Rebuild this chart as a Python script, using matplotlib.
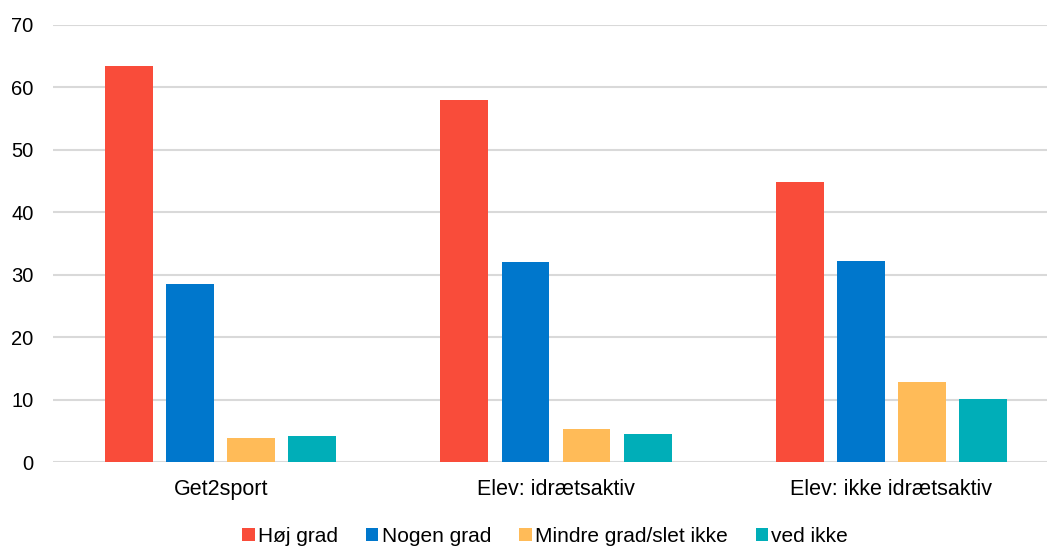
import matplotlib
matplotlib.use("Agg")
import matplotlib.pyplot as plt
import numpy as np

plt.rcParams['font.family'] = ['Liberation Sans', 'DejaVu Sans']

categories = ["Get2sport", "Elev: idrætsaktiv", "Elev: ikke idrætsaktiv"]
series_names = ["Høj grad", "Nogen grad", "Mindre grad/slet ikke", "ved ikke"]
hoej = [63.5, 58.0, 44.9]
nogen = [28.5, 32.1, 32.2]
mindre = [3.8, 5.3, 12.8]
vedikke = [4.2, 4.5, 10.1]
colors = ["#F94C3A", "#0077CC", "#FFBB58", "#00AEB8"]
yticks = [0, 10, 20, 30, 40, 50, 60, 70]

fig = plt.figure(figsize=(10.47, 5.48), dpi=100)
ax = fig.add_axes([53/1047, 1-462/548, (1059-53)/1047, (462-25)/548])

x = np.arange(len(categories))
pitch = 0.182
width = 0.143
for i, (vals, name, c) in enumerate(zip([hoej, nogen, mindre, vedikke], series_names, colors)):
    ax.bar(x + (i - 1.5) * pitch, vals, width, color=c, label=name, zorder=3)

ax.set_xlim(-0.5, 2.5)
ax.set_ylim(0, 70)
ax.set_yticks(yticks)
ax.set_xticks(x)
ax.set_xticklabels(categories)
ax.tick_params(axis='both', length=0, colors='#000000')
ax.tick_params(axis='x', pad=12, labelsize=15.5)
ax.tick_params(axis='y', pad=14, labelsize=14.5)
for s in ax.spines.values():
    s.set_visible(False)
ax.grid(axis='y', color='#D9D9D9', linewidth=1.5, zorder=0)
ax.set_axisbelow(True)

leg = fig.legend(loc='center', bbox_to_anchor=(545/1047, 1-536/548), ncol=4, frameon=False,
                 fontsize=15, handlelength=0.6, handleheight=0.6, handletextpad=0.15,
                 columnspacing=1.35)

fig.savefig("out.png", dpi=100)
